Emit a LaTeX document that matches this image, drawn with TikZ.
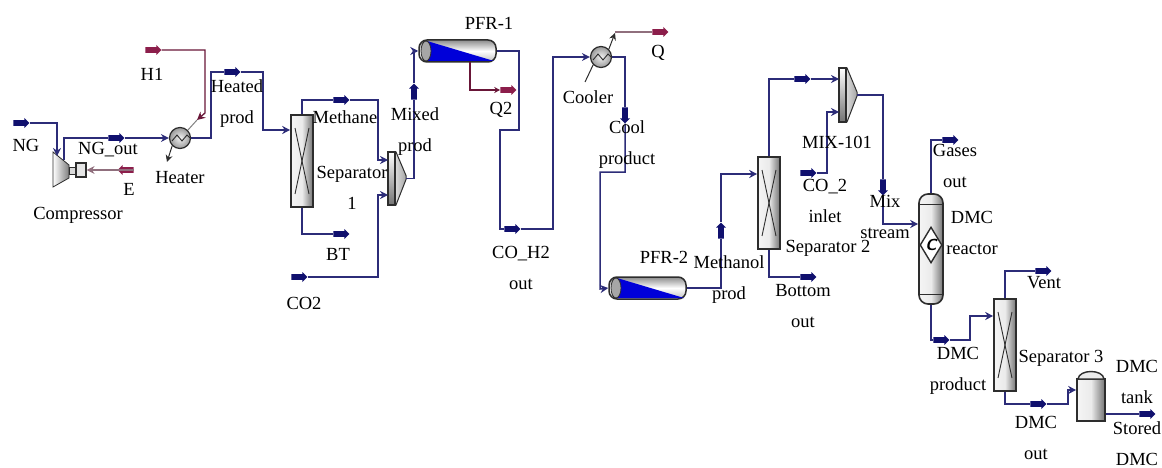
\documentclass[tikz,border=0pt]{standalone}
\usepackage{fontspec}
\setmainfont{Liberation Serif}
\usepackage{xcolor}
\usetikzlibrary{arrows.meta}
\usetikzlibrary{shapes.arrows}
\usetikzlibrary{shapes.geometric}
\definecolor{matter}{RGB}{44,44,120}
\definecolor{matterdark}{RGB}{16,16,110}
\definecolor{energy}{RGB}{140,30,75}
\definecolor{frame}{RGB}{45,45,45}
\def\width{1162}
\def\hauteur{468}
\tikzset{
	stream/.style={draw=matter, line width=1.5pt, -{Stealth[length=8pt,width=8pt]}},
	plain/.style={draw=matter, line width=1.5pt},
	heat/.style={draw=energy!75!black, line width=1.3pt},
	heatfade/.style={heat, draw=energy!50!black!60},
	tag/.style={single arrow, fill=matterdark, inner sep=2.4pt, minimum height=16pt, minimum width=10pt, single arrow head extend=2pt, single arrow head indent=0pt},
	tagheat/.style={tag, fill=energy},
	vessel/.style={draw=frame, line width=1.6pt, left color=black!4, right color=black!55, middle color=black!8, inner sep=0pt},
	exchanger/.style={circle, draw=frame, line width=1.2pt, minimum size=21pt, inner sep=0pt, inner color=black!5, outer color=black!40},
	label/.style={align=center, inner sep=0pt, font=\fontsize{18.5}{31}\selectfont},
}
% column with a cross inside
\newcommand{\sepunit}[3]{
	\node[vessel, minimum width=22pt, minimum height=92pt] (#1) at (#2,#3) {};
	\draw[frame, line width=.9pt] ([shift={(-7,-33)}]#1.center) -- ++(14,66);
	\draw[frame, line width=.9pt] ([shift={(7,-33)}]#1.center) -- ++(-14,66);
}
% mixer, x y = upper left corner
\newcommand{\mixunit}[5]{
	\coordinate (#1) at (#2+#4,#3+#5/2);
	\draw[frame, line width=1pt, left color=white, right color=black!35] (#2,#3) -- ++(8,0) -- (#2+#4,#3+#5/2-3) -- (#2+#4,#3+#5/2+1) -- (#2+8,#3+#5) -- (#2,#3+#5) -- cycle;
	\draw[frame, line width=1.2pt, top color=white, bottom color=black!55] (#2,#3) rectangle (#2+7,#3+#5);
}
% tube reactor, x y = upper left corner
\newcommand{\pfrunit}[3]{
	\begin{scope}[shift={(#2,#3)}]
		\node[draw=frame, line width=1.5pt, rounded corners=8pt, top color=black!45, bottom color=black!25, middle color=white, minimum width=77pt, minimum height=22pt, inner sep=0pt] (#1) at (38.5,11) {};
		\fill[blue!85!black] (8,1) -- (75,21) -- (8,21) -- cycle;
		\draw[frame, line width=.8pt, fill=black!35] (7,11) ellipse (5 and 10);
	\end{scope}
}
% exchanger zigzag
\newcommand{\zigzag}[1]{
	\draw[frame, line width=.9pt] ([shift={(-8,3)}]#1.center) -- ++(5,-6) -- ++(5,6) -- ++(5,-6) -- ++(3,3);
}

\begin{document}
\begin{tikzpicture}[x=1pt, y=-1pt]
	\useasboundingbox (0,0) rectangle (\width,\hauteur);

	%compressor
	\draw[frame, line width=.8pt, left color=white, right color=black!50] (53,152) -- (69,165) -- (69,178) -- (53,187) -- cycle;
	\draw[frame, line width=1pt, fill=black!15] (69,168) rectangle (76,174);
	\node[draw=frame, line width=1.2pt, fill=black!10, minimum width=10pt, minimum height=14pt, inner sep=0pt] (comp) at (81,170) {};
	\coordinate (compin) at (57,156);
	\coordinate (compout) at (64,160);

	%units
	\node[exchanger] (heater) at (180,138) {};
	\zigzag{heater}
	\sepunit{sepa}{302}{161}
	\mixunit{mixa}{388}{152}{18}{53}
	\pfrunit{pfra}{419}{40}
	\node[exchanger] (cooler) at (601,57) {};
	\zigzag{cooler}
	\pfrunit{pfrb}{609}{277}
	\sepunit{sepb}{769}{203}
	\mixunit{mixb}{839}{68}{18}{54}

	%dmc reactor
	\node[vessel, rounded corners=9pt, minimum width=24pt, minimum height=110pt] (reactor) at (931,249) {};
	\draw[frame, line width=1pt] (919,204) -- (943,204) (919,294) -- (943,294);
	\node[diamond, draw=frame, line width=1.4pt, fill=white, shape aspect=.6, minimum width=22pt, minimum height=36pt, inner sep=0pt, font=\fontsize{16}{16}\selectfont\bfseries\itshape\sffamily] (cat) at (931,245) {C};
	\sepunit{sepc}{1005}{345}

	%tank
	\node[vessel, minimum width=28pt, minimum height=42pt] (tank) at (1091,400) {};
	\draw[frame, line width=1.4pt, fill=black!8] (1078,379) .. controls (1079,369) and (1103,369) .. (1104,379) -- cycle;

	%feed and product tags
	\node[tag] (tNG) at (20,123) {};
	\node[tag] (tNGout) at (115,138) {};
	\node[tag] (tHeated) at (231,72) {};
	\node[tag] (tMethane) at (340,100) {};
	\node[tag] (tBT) at (340,234) {};
	\node[tag] (tCOtwo) at (298,277) {};
	\node[tag, rotate=90] (tMixed) at (414,93) {};
	\node[tag] (tCOHtwo) at (511,229) {};
	\node[tag, rotate=-90] (tCool) at (625,114) {};
	\node[tag, rotate=90] (tMeth) at (721,232) {};
	\node[tag] (tSepb) at (801,79) {};
	\node[tag] (tBottom) at (807,277) {};
	\node[tag] (tCOb) at (807,173) {};
	\node[tag, rotate=-90] (tMix) at (883,186) {};
	\node[tag] (tGases) at (949,140) {};
	\node[tag] (tVent) at (1042,271) {};
	\node[tag] (tProduct) at (940,340) {};
	\node[tag] (tDMCout) at (1037,404) {};
	\node[tag] (tStored) at (1146,414) {};
	\node[tagheat] (tHone) at (152,50) {};
	\node[tagheat, rotate=180] (tE) at (127,170) {};
	\node[tagheat] (tQtwo) at (507,90) {};
	\node[tagheat] (tQ) at (659,32) {};

	%material streams
	\draw[stream] (tNG.east) -- (57,123) -- (compin);
	\draw[plain] (compout) |- (tNGout.west);
	\draw[stream] (tNGout.east) -- (heater.west);
	\draw[plain] (heater.east) -- (211,138) |- (tHeated.west);
	\draw[stream] (tHeated.east) -- (263,72) |- (sepa.west |- 0,130);
	\draw[plain] (sepa.north) |- (tMethane.west);
	\draw[stream] (tMethane.east) -- (378,100) |- (388,160);
	\draw[plain] (sepa.south) |- (tBT.west);
	\draw[stream] (tCOtwo.east) -- (378,277) |- (388,195);
	\draw[plain] (mixa) -| (tMixed.west);
	\draw[stream] (tMixed.east) |- (pfra.west);
	\draw[plain] (pfra.east) -- (519,51) |- (500,130) |- (tCOHtwo.west);
	\draw[stream] (tCOHtwo.east) -- (553,229) |- (cooler.west);
	\draw[plain] (cooler.east) -| (tCool.west);
	\draw[stream] (tCool.east) -- (625,172) -| (600,289) -- (pfrb.west);
	\draw[plain] (pfrb.east) -| (tMeth.west);
	\draw[stream] (tMeth.east) |- (sepb.west |- 0,174);
	\draw[plain] (sepb.north) |- (tSepb.west);
	\draw[stream] (tSepb.east) -- (839,79);
	\draw[plain] (sepb.south) |- (tBottom.west);
	\draw[stream] (tCOb.east) -- (827,173) |- (839,112);
	\draw[plain] (mixb) -| (tMix.west);
	\draw[stream] (tMix.east) |- (reactor.west |- 0,224);
	\draw[plain] (reactor.north) |- (tGases.west);
	\draw[plain] (reactor.south) |- (tProduct.west);
	\draw[stream] (tProduct.east) -- (970,340) |- (sepc.west |- 0,316);
	\draw[plain] (sepc.north) |- (tVent.west);
	\draw[plain] (sepc.south) |- (tDMCout.west);
	\draw[stream] (tDMCout.east) -- (1068,404) |- (tank.west |- 0,390);
	\draw[plain] (tank.east |- tStored) -- (tStored.west);

	%energy streams
	\draw[heat, -{Stealth[length=8pt,width=8pt]}] (tHone.east) -- (205,50) -- (205,113) -- (197,120);
	\draw[frame!60, line width=1pt] (197,120) -- (heater.north east);
	\draw[frame, line width=1pt, -{Stealth[length=7pt,width=7pt]}] (heater.south west) -- (167,162);
	\draw[heatfade, -{Stealth[length=8pt,width=8pt]}] (tE.west) -- (comp.east);
	\draw[heat, -{Stealth[length=6pt,width=6pt]}] (470,62) |- (tQtwo.west);
	\draw[heatfade] (615,32) -- (tQ.west);
	\draw[frame, line width=1pt] (585,82) -- (cooler.south west);
	\draw[frame, line width=1pt, -{Stealth[length=7pt,width=7pt]}] (cooler.north east) -- (615,33);

	%labels
	\node[label] (lNG) at (26,145) {NG};
	\node[label] (lNGout) at (108,150) {NG\_out};
	\node[label] (lE) at (129,189) {E};
	\node[label] (lComp) at (78,215) {Compressor};
	\node[label] (lHone) at (152,74) {H1};
	\node[label] (lHeater) at (180,178) {Heater};
	\node[label] (lHeated) at (237,104) {Heated\\prod};
	\node[label] (lMethane) at (345,117) {Methane};
	\node[label] (lMixed) at (415,132) {Mixed\\prod};
	\node[label] (lSepa) at (352,188) {Separator\\1};
	\node[label] (lBT) at (338,254) {BT};
	\node[label] (lCOtwo) at (304,303) {CO2};
	\node[label] (lPFRa) at (489,23) {PFR-1};
	\node[label] (lQtwo) at (501,110) {Q2};
	\node[label] (lCOHtwo) at (521,268) {CO\_H2\\out};
	\node[label] (lCooler) at (588,97) {Cooler};
	\node[label] (lQ) at (658,53) {Q};
	\node[label] (lCool) at (627,145) {Cool\\product};
	\node[label] (lPFRb) at (664,257) {PFR-2};
	\node[label] (lMeth) at (729,280) {Methanol\\prod};
	\node[label] (lSepb) at (828,248) {Separator 2};
	\node[label] (lBottom) at (803,306) {Bottom\\out};
	\node[label] (lMIX) at (837,142) {MIX-101};
	\node[label] (lCOb) at (825,201) {CO\_2\\inlet};
	\node[label] (lMix) at (885,217) {Mix\\stream};
	\node[label] (lGases) at (955,166) {Gases\\out};
	\node[label] (lDMCr) at (972,233) {DMC\\reactor};
	\node[label] (lVent) at (1044,283) {Vent};
	\node[label] (lProduct) at (958,371) {DMC\\product};
	\node[label] (lSepc) at (1061,358) {Separator 3};
	\node[label] (lTank) at (1137,382) {DMC\\tank};
	\node[label] (lDMCout) at (1036,438) {DMC\\out};
	\node[label] (lStored) at (1137,444) {Stored\\DMC};
\end{tikzpicture}
\end{document}
